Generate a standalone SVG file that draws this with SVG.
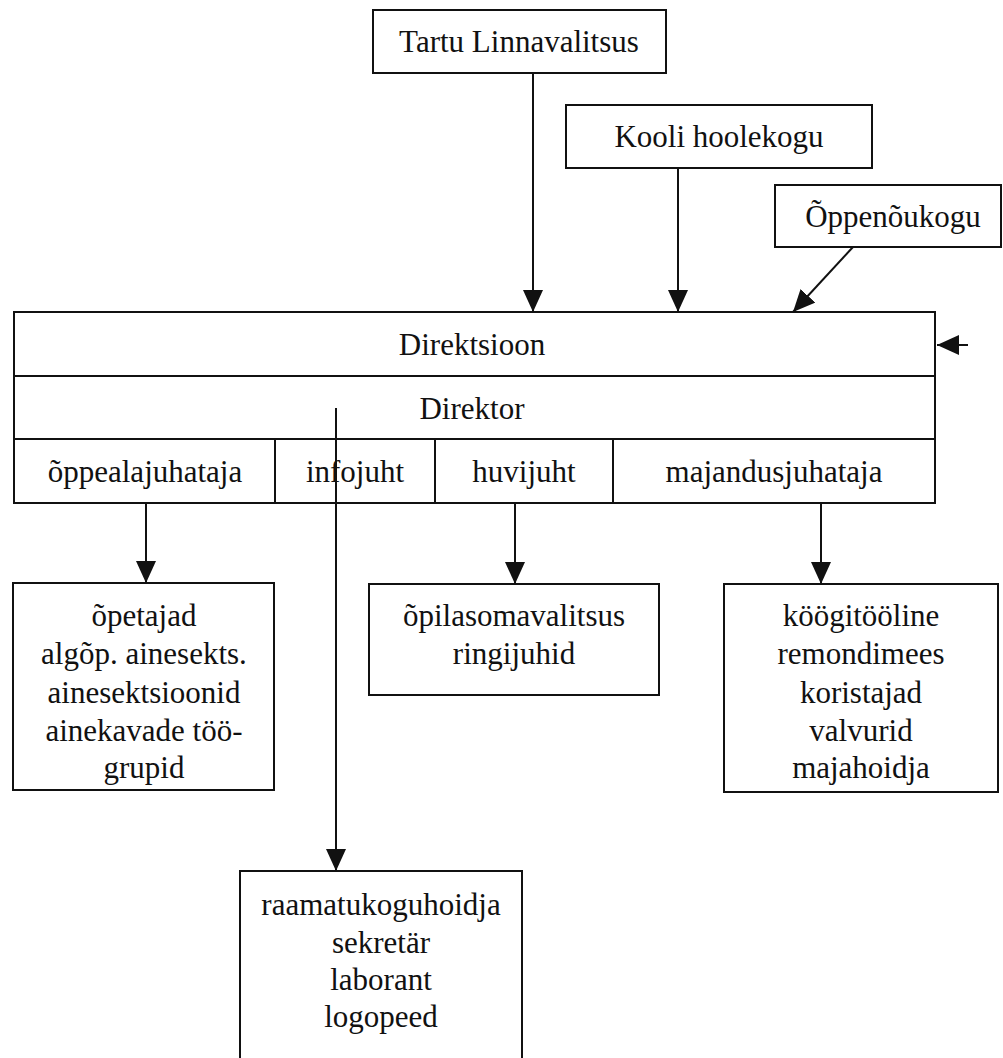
<svg xmlns="http://www.w3.org/2000/svg" width="1003" height="1058" viewBox="0 0 1003 1058">
<style>
.box{fill:#fff;stroke:#111;stroke-width:2}
.ln{stroke:#111;stroke-width:2;fill:none}
.t{font-family:"Liberation Serif","Times New Roman",serif;font-size:31px;fill:#111;text-anchor:middle}
</style>
<defs>
<marker id="ah" markerUnits="userSpaceOnUse" markerWidth="24" markerHeight="22" refX="22" refY="10" orient="auto">
<path d="M0,0 L22,10 L0,20 z" fill="#111"/>
</marker>
</defs>
<rect width="1003" height="1058" fill="#fff"/>
<g id="tartu">
<rect class="box" x="373" y="10" width="293" height="63"/>
<text class="t" x="519" y="52">Tartu Linnavalitsus</text>
</g>
<g id="hoolekogu">
<rect class="box" x="566" y="105" width="306" height="63"/>
<text class="t" x="719" y="147">Kooli hoolekogu</text>
</g>
<g id="oppenoukogu">
<rect class="box" x="775" y="185" width="226" height="62"/>
<text class="t" x="893" y="227">Õppenõukogu</text>
</g>
<g id="direktsioon">
<rect class="box" x="14" y="312" width="921" height="64"/>
<text class="t" x="472" y="355">Direktsioon</text>
</g>
<g id="direktor">
<rect class="box" x="14" y="376" width="921" height="63"/>
<text class="t" x="472" y="419">Direktor</text>
</g>
<g id="oppealajuhataja">
<rect class="box" x="14" y="439" width="261" height="64"/>
<text class="t" x="145" y="482">õppealajuhataja</text>
</g>
<g id="infojuht">
<rect class="box" x="275" y="439" width="160" height="64"/>
<text class="t" x="355" y="482">infojuht</text>
</g>
<g id="huvijuht">
<rect class="box" x="435" y="439" width="178" height="64"/>
<text class="t" x="524" y="482">huvijuht</text>
</g>
<g id="majandusjuhataja">
<rect class="box" x="613" y="439" width="322" height="64"/>
<text class="t" x="774" y="482">majandusjuhataja</text>
</g>
<g id="opetajad">
<rect class="box" x="13" y="583" width="261" height="207"/>
<text class="t" x="144" y="626">õpetajad</text>
<text class="t" x="144" y="664">algõp. ainesekts.</text>
<text class="t" x="144" y="703">ainesektsioonid</text>
<text class="t" x="144" y="741">ainekavade töö-</text>
<text class="t" x="144" y="778">grupid</text>
</g>
<g id="opilasomavalitsus">
<rect class="box" x="369" y="584" width="290" height="111"/>
<text class="t" x="514" y="626">õpilasomavalitsus</text>
<text class="t" x="514" y="664">ringijuhid</text>
</g>
<g id="majandus">
<rect class="box" x="724" y="584" width="274" height="208"/>
<text class="t" x="861" y="626">köögitööline</text>
<text class="t" x="861" y="664">remondimees</text>
<text class="t" x="861" y="703">koristajad</text>
<text class="t" x="861" y="741">valvurid</text>
<text class="t" x="861" y="778">majahoidja</text>
</g>
<g id="raamatukogu">
<rect class="box" x="240" y="871" width="282" height="200"/>
<text class="t" x="381" y="915">raamatukoguhoidja</text>
<text class="t" x="381" y="953">sekretär</text>
<text class="t" x="381" y="990">laborant</text>
<text class="t" x="381" y="1027">logopeed</text>
</g>
<g id="connectors">
<line class="ln" x1="533" y1="73" x2="533" y2="312" marker-end="url(#ah)"/>
<line class="ln" x1="678" y1="168" x2="678" y2="312" marker-end="url(#ah)"/>
<line class="ln" x1="853" y1="247" x2="793" y2="312" marker-end="url(#ah)"/>
<line class="ln" x1="968" y1="345" x2="937" y2="345" marker-end="url(#ah)"/>
<line class="ln" x1="146" y1="503" x2="146" y2="583" marker-end="url(#ah)"/>
<line class="ln" x1="515" y1="503" x2="515" y2="584" marker-end="url(#ah)"/>
<line class="ln" x1="821" y1="503" x2="821" y2="584" marker-end="url(#ah)"/>
<line class="ln" x1="336" y1="408" x2="336" y2="871" marker-end="url(#ah)"/>
</g>
</svg>
